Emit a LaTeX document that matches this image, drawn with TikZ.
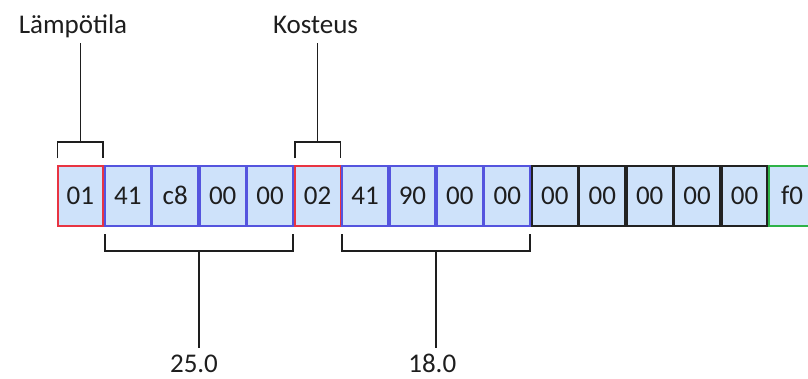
\documentclass[tikz,border=0pt]{standalone}
\usepackage{fontspec}
\setmainfont{Carlito}
\usepackage{xcolor}
\usetikzlibrary{calc}
\definecolor{cellFill}{RGB}{206,226,250}
\definecolor{tagRed}{RGB}{232,52,66}
\definecolor{dataBlue}{RGB}{84,84,222}
\definecolor{padBlack}{RGB}{34,34,34}
\definecolor{sumGreen}{RGB}{46,178,72}
\definecolor{inkGray}{RGB}{30,30,30}

\begin{document}
\begin{tikzpicture}[x=1pt, y=1pt, font=\fontsize{27}{32}\selectfont, text=inkGray,
  cellbox/.style={draw, fill=cellFill, line width=1.8pt, minimum width=45.6pt, minimum height=60pt, inner sep=0pt, outer sep=0pt},
  bracket/.style={line width=1.7pt, inkGray}]
\clip (0,0) rectangle (808,378);
% the message bytes
\foreach \i/\byte/\col in {1/01/tagRed, 2/41/dataBlue, 3/c8/dataBlue, 4/00/dataBlue, 5/00/dataBlue,
  6/02/tagRed, 7/41/dataBlue, 8/90/dataBlue, 9/00/dataBlue, 10/00/dataBlue,
  11/00/padBlack, 12/00/padBlack, 13/00/padBlack, 14/00/padBlack, 15/00/padBlack, 16/f0/sumGreen}{
\node[cellbox, draw=\col] (b\i) at ({80.4+47.44*(\i-1)},182.3) {\byte};
}
% labels
\node[anchor=base] (lampo) at (73,344.7) {Lämpötila};
\node[anchor=base] (kost) at (315.5,344.7) {Kosteus};
\node[anchor=base] (val1) at (194,6) {25.0};
\node[anchor=base] (val2) at (432.3,6) {18.0};
% brackets above the tag bytes
\draw[bracket] ([yshift=7.4]b1.north west) -- ++(0,16.6) -| ([yshift=7.4]b1.north east);
\draw[bracket] ([yshift=24]b1.north) -- ([yshift=-10]b1.north |- lampo.base);
\draw[bracket] ([yshift=7.4]b6.north west) -- ++(0,16.6) -| ([yshift=7.4]b6.north east);
\draw[bracket] ([yshift=24]b6.north) -- ([yshift=-10]b6.north |- kost.base);
% brackets below the float values
\coordinate (m1) at ($(b2.south west)!0.5!(b5.south east)$);
\coordinate (m2) at ($(b7.south west)!0.5!(b10.south east)$);
\draw[bracket] ([yshift=-8.3]b2.south west) -- ++(0,-16.7) -| ([yshift=-8.3]b5.south east);
\draw[bracket] ([yshift=-25]m1) -- ([yshift=23.7]m1 |- val1.base);
\draw[bracket] ([yshift=-8.3]b7.south west) -- ++(0,-16.7) -| ([yshift=-8.3]b10.south east);
\draw[bracket] ([yshift=-25]m2) -- ([yshift=23.7]m2 |- val2.base);
\end{tikzpicture}
\end{document}
